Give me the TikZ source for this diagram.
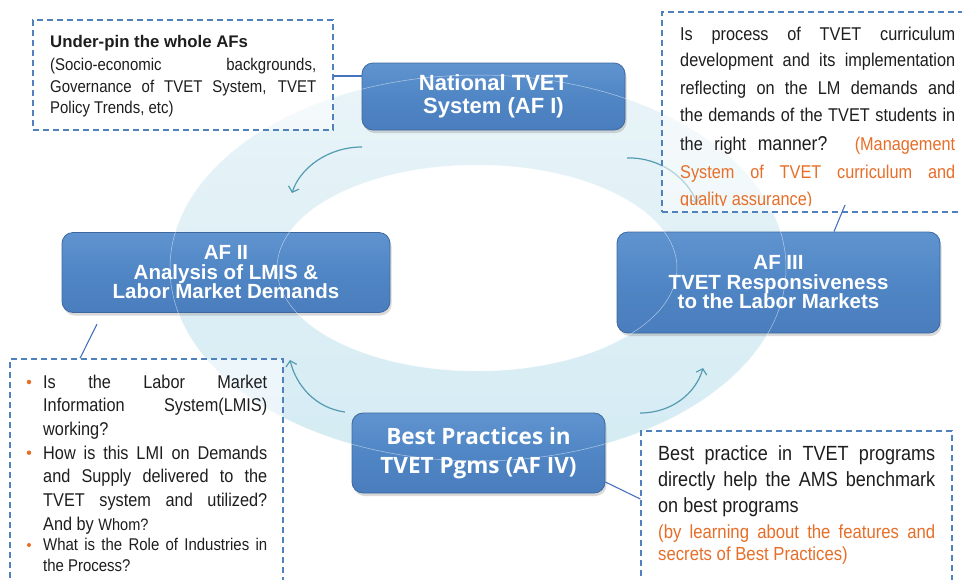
\documentclass[tikz,border=0pt]{standalone}
\usepackage{fontspec}
\setmainfont{Liberation Sans}
\newfontfamily\ipfont[FakeStretch=0.88]{Liberation Sans}
\newfontfamily\bpfont{Open Sans}
\usetikzlibrary{shadows,arrows.meta}

\definecolor{ringfill}{RGB}{212,235,243}
\definecolor{ringlight}{RGB}{233,244,248}
\definecolor{afblue}{RGB}{80,134,197}
\definecolor{aftop}{RGB}{96,148,208}
\definecolor{afbottom}{RGB}{74,125,189}
\definecolor{afedge}{RGB}{62,104,158}
\definecolor{dashblue}{RGB}{79,129,189}
\definecolor{linkblue}{RGB}{68,114,190}
\definecolor{cycteal}{RGB}{84,156,178}
\definecolor{notetext}{RGB}{30,30,30}
\definecolor{noteorange}{RGB}{230,110,40}

\newcommand\fillrow[2]{\makebox[#1][s]{#2}}

\tikzset{
  afbox/.style={rounded corners=11pt, draw=afedge, line width=0.8pt,
    top color=aftop, bottom color=afbottom, middle color=afblue,
    text=white, align=center, inner sep=0pt,
    drop shadow={opacity=0.3, shadow xshift=1.5pt, shadow yshift=-3pt}},
  afboxfont/.style={font=\bfseries\fontsize{20.5}{19.5}\selectfont},
  notebox/.style={draw=dashblue, dash pattern=on 6pt off 4pt, line width=1.3pt,
    fill=white, fill opacity=0.55, draw opacity=1, inner sep=0pt},
  link/.style={draw=linkblue, line width=1.1pt},
  cycarrow/.style={draw=cycteal, line width=1.2pt,
    -{Straight Barb[length=5pt,width=11pt,line width=1.2pt]}},
  row/.style={anchor=base west, inner sep=0pt, text=notetext},
  tlrow/.style={row, font=\ipfont\fontsize{17}{19}\selectfont},
  trrow/.style={row, font=\ipfont\fontsize{18.5}{20}\selectfont},
  blrow/.style={row, font=\ipfont\fontsize{18.5}{20}\selectfont},
  blsmall/.style={row, font=\ipfont\fontsize{17}{19}\selectfont},
  brrow/.style={row, font=\ipfont\fontsize{20.5}{22}\selectfont},
  brorange/.style={row, text=noteorange, font=\ipfont\fontsize{19}{21}\selectfont},
  bulletdot/.style={circle, fill=noteorange, inner sep=0pt, minimum size=4.5pt},
}

\begin{document}
\begin{tikzpicture}[x=1pt, y=-1pt]
\useasboundingbox (0,0) rectangle (962,579);

% the cycle band
\shade[even odd rule, top color=ringlight, bottom color=ringfill]
  (478,268) ellipse [x radius=308, y radius=193]
  (477,268) ellipse [x radius=200, y radius=103];

% curved cycle arrows inside the band
\coordinate (c1s) at (362,147); \coordinate (c1e) at (292,193);
\coordinate (c2s) at (627,158); \coordinate (c2e) at (697,203);
\coordinate (c3s) at (345,412); \coordinate (c3e) at (290,360);
\coordinate (c4s) at (640,413); \coordinate (c4e) at (703,368);
\draw[cycarrow] (c1s) .. controls (328,147) and (300,168) .. (c1e);
\draw[cycarrow] (c2s) .. controls (660,157) and (687,178) .. (c2e);
\draw[cycarrow] (c3s) .. controls (315,408) and (296,385) .. (c3e);
\draw[cycarrow] (c4s) .. controls (672,413) and (696,393) .. (c4e);

% the four areas of focus
\node[afbox, minimum width=263pt, minimum height=67pt,
      font=\bfseries\fontsize{22}{23}\selectfont] (afI) at (493.5,96.5)
  {National TVET\\System (AF I)};
\node[afbox, afboxfont, minimum width=328pt, minimum height=80pt] (afII) at (226,272.5)
  {AF II\\Analysis of LMIS \&\\Labor Market Demands};
\node[afbox, afboxfont, minimum width=323pt, minimum height=101pt] (afIII) at (778.5,282.5)
  {AF III\\TVET Responsiveness\\to the Labor Markets};
\node[afbox, minimum width=253pt, minimum height=80pt,
      font=\bpfont\bfseries\fontsize{22.5}{29}\selectfont] (afIV) at (478.5,453)
  {Best Practices in\\TVET Pgms (AF IV)};

% glassy rim of the band running over the boxes
\draw[white, line width=0.5pt, opacity=0.55]
  (478,268) ellipse [x radius=308, y radius=193]
  (477,268) ellipse [x radius=200, y radius=103];

% dashed note frames
\node[notebox, minimum width=300pt, minimum height=110pt] (tlnote) at (183,75) {};
\node[notebox, minimum width=306pt, minimum height=200pt] (trnote) at (815,112) {};
\node[notebox, minimum width=273pt, minimum height=241pt] (blnote) at (146.5,479.5) {};
\node[notebox, minimum width=311pt, minimum height=169pt] (brnote) at (796.5,515.5) {};

% connectors between notes and boxes
\draw[link] (tlnote.east |- 0,76) -- (afI.west |- 0,76);
\coordinate (trtail) at (845,205);
\draw[link] (trtail) -- (afIII.north -| 834,0);
\coordinate (bltail) at (97,324);
\draw[link] (bltail) -- (blnote.north -| 80,0);
\draw[link] (afIV.east |- 0,482) -- (brnote.west |- 0,499);

% note: top left
\node[row, font=\bfseries\fontsize{16.8}{18}\selectfont] (tl0) at (50,47) {Under-pin the whole AFs};
\node[tlrow] (tl1) at (50,70) {\fillrow{266pt}{(Socio-economic backgrounds,}};
\node[tlrow] (tl2) at (50,92) {\fillrow{266pt}{Governance of TVET System, TVET}};
\node[tlrow] (tl3) at (50,113) {Policy Trends, etc)};

% note: top right
\begin{scope}
\clip (662,12) rectangle (970,205.5);
\node[trrow] (tr1) at (680,40) {\fillrow{275pt}{Is process of TVET curriculum}};
\node[trrow] (tr2) at (680,66.7) {\fillrow{275pt}{development and its implementation}};
\node[trrow] (tr3) at (680,94) {\fillrow{275pt}{reflecting on the LM demands and}};
\node[trrow] (tr4) at (680,121) {\fillrow{275pt}{the demands of the TVET students in}};
\node[trrow] (tr5) at (680,150) {\fillrow{275pt}{the right {\fontsize{20}{20}\selectfont manner?} \textcolor{noteorange}{(Management}}};
\node[trrow, text=noteorange] (tr6) at (680,178) {\fillrow{275pt}{System of TVET curriculum and}};
\node[trrow, text=noteorange] (tr7) at (680,205) {quality assurance)};
\end{scope}

% note: bottom left
\node[bulletdot] (blb1) at (29,382) {};
\node[blrow] (bl1) at (43,388.3) {\fillrow{224pt}{Is the Labor Market}};
\node[blrow] (bl2) at (43,411.7) {\fillrow{224pt}{Information System(LMIS)}};
\node[blrow] (bl3) at (43,435) {working?};
\node[bulletdot] (blb2) at (29,452.7) {};
\node[blrow] (bl4) at (43,459) {\fillrow{224pt}{How is this LMI on Demands}};
\node[blrow] (bl5) at (43,482.7) {\fillrow{224pt}{and Supply delivered to the}};
\node[blrow] (bl6) at (43,506) {\fillrow{224pt}{TVET system and utilized?}};
\node[blrow] (bl7) at (43,530) {And by {\fontsize{16.5}{18}\selectfont Whom?}};
\node[bulletdot, minimum size=4pt] (blb3) at (29,545) {};
\node[blsmall] (bl8) at (43,550.7) {\fillrow{224pt}{What is the Role of Industries in}};
\node[blsmall] (bl9) at (43,571.7) {the Process?};

% note: bottom right
\node[brrow] (br1) at (658,460.7) {\fillrow{277pt}{Best practice in TVET programs}};
\node[brrow] (br2) at (658,486.7) {\fillrow{277pt}{directly help the AMS benchmark}};
\node[brrow] (br3) at (658,512.7) {on best programs};
\node[brorange] (br4) at (658,538) {\fillrow{277pt}{(by learning about the features and}};
\node[brorange] (br5) at (658,560.7) {secrets of Best Practices)};
\end{tikzpicture}
\end{document}
